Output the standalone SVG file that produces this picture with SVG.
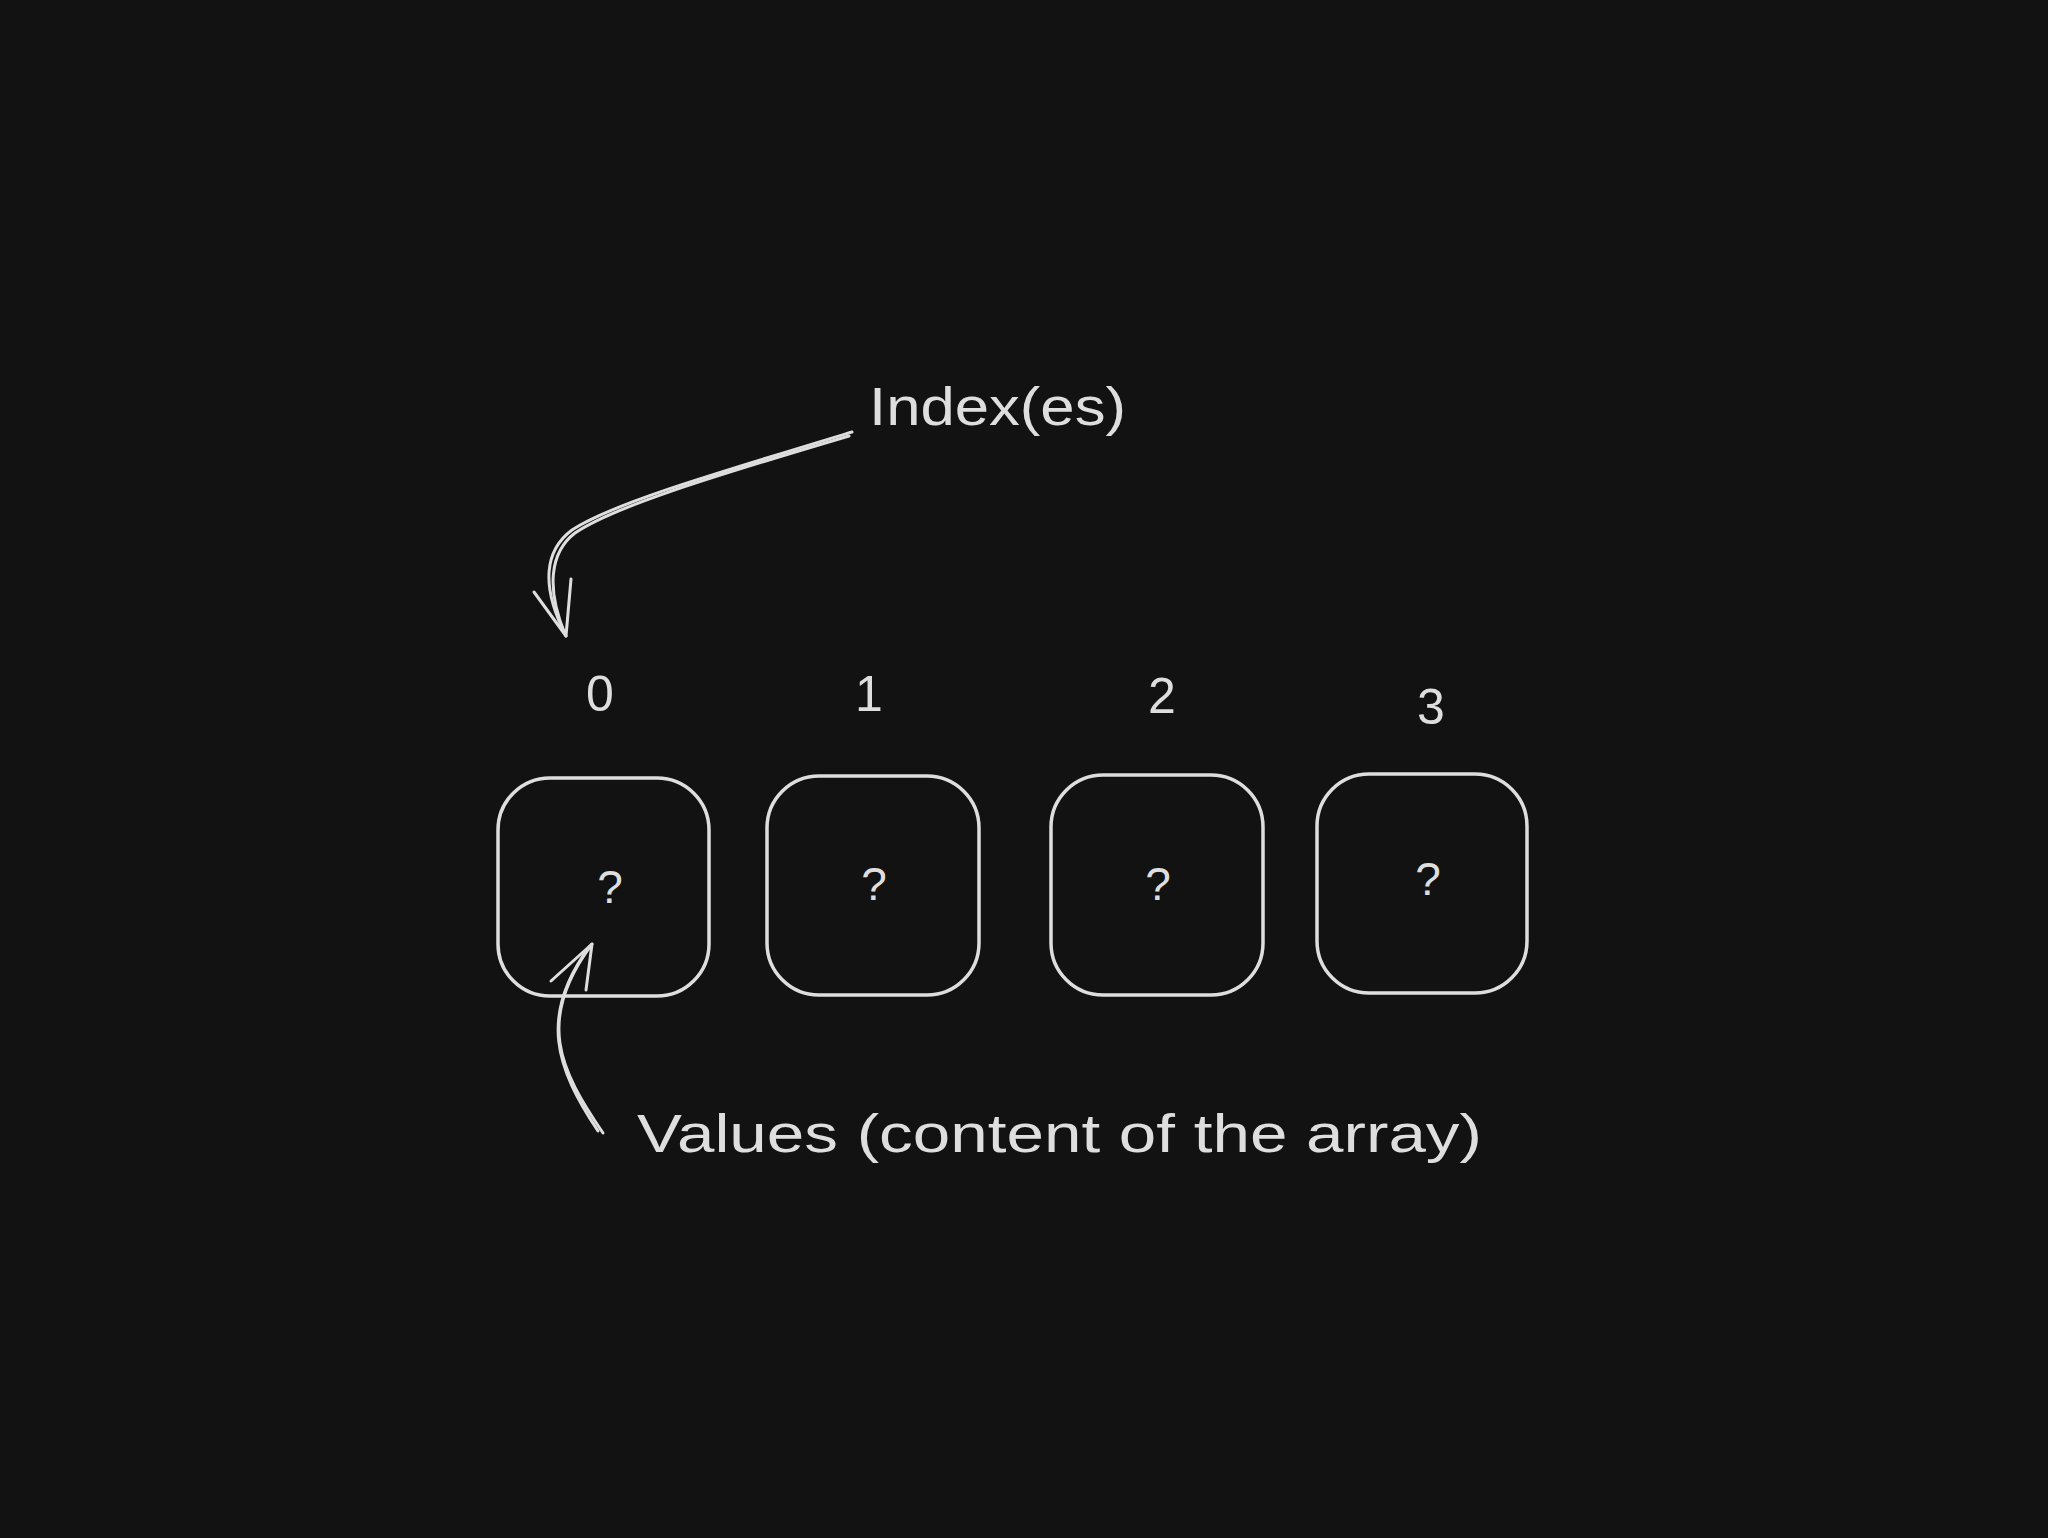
<svg xmlns="http://www.w3.org/2000/svg" width="2048" height="1538" viewBox="0 0 2048 1538">
<style>
.bg{fill:#121212}
.box{fill:none;stroke:#dedede;stroke-width:3.5}
.ln{fill:none;stroke:#dedede;stroke-width:3;stroke-linecap:round;stroke-linejoin:round}
.t{fill:#dedede;font-family:"Liberation Sans","DejaVu Sans",sans-serif}
.idx{font-size:50px;text-anchor:middle}
.q{font-size:46px;text-anchor:middle}
.lbl{font-size:54px}
</style>
<rect class="bg" x="0" y="0" width="2048" height="1538"/>
<g id="connectors">
<path class="ln" d="M852,432 C 700,478 610,505 572,530 C 545,550 540,585 566,636"/>
<path class="ln" d="M849,436 C 700,480 612,508 575,533 C 550,552 546,588 565,634"/>
<path class="ln" d="M534,592 L566,636 L571,579"/>
<path class="ln" d="M603,1133 C 560,1070 535,1020 592,944"/>
<path class="ln" d="M598,1131 C 556,1068 538,1016 590,946"/>
<path class="ln" d="M551,981 L592,944 L586,990"/>
</g>
<g id="cell0">
<rect class="box" x="498" y="778" width="211" height="218" rx="52" ry="52"/>
<text class="t q" x="610" y="903">?</text>
<text class="t idx" x="600" y="711">0</text>
</g>
<g id="cell1">
<rect class="box" x="767" y="776" width="212" height="219" rx="52" ry="52"/>
<text class="t q" x="874" y="900">?</text>
<text class="t idx" x="869" y="711">1</text>
</g>
<g id="cell2">
<rect class="box" x="1051" y="775" width="212" height="220" rx="52" ry="52"/>
<text class="t q" x="1158" y="900">?</text>
<text class="t idx" x="1162" y="713">2</text>
</g>
<g id="cell3">
<rect class="box" x="1317" y="774" width="210" height="219" rx="52" ry="52"/>
<text class="t q" x="1428" y="895">?</text>
<text class="t idx" x="1431" y="724">3</text>
</g>
<g id="label-index">
<text class="t lbl" x="869" y="425" textLength="257" lengthAdjust="spacingAndGlyphs">Index(es)</text>
</g>
<g id="label-values">
<text class="t lbl" x="637" y="1152" textLength="845" lengthAdjust="spacingAndGlyphs">Values (content of the array)</text>
</g>
</svg>
